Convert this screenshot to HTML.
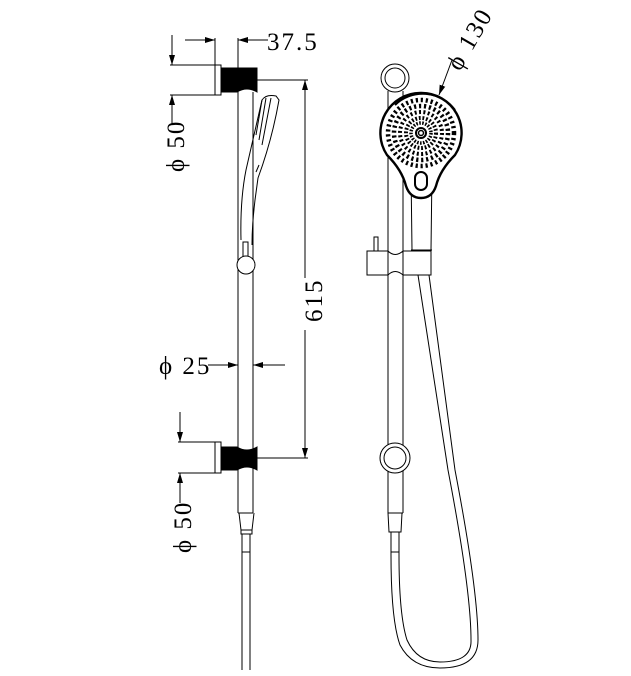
<!DOCTYPE html>
<html><head><meta charset="utf-8"><style>
html,body{margin:0;padding:0;background:#fff;width:631px;height:676px;overflow:hidden}
text{font-family:"Liberation Serif",serif;fill:#000;letter-spacing:2px}
</style></head><body>
<svg width="631" height="676" viewBox="0 0 631 676" xmlns="http://www.w3.org/2000/svg">
<defs>
<marker id="a" markerWidth="10" markerHeight="6" refX="10" refY="3" orient="auto" markerUnits="userSpaceOnUse">
<path d="M0,0 L10,3 L0,6 z" fill="#000"/></marker>
</defs>
<g fill="none" stroke="#000" stroke-width="1">
<line x1="238" y1="38" x2="238" y2="513"/>
<line x1="253" y1="92" x2="253" y2="513"/>
<line x1="238" y1="513" x2="253" y2="513"/>
<rect x="215" y="65" width="6" height="30"/>
<path d="M221,68 H257 V92 Q247,86 237,92 H221 Z" fill="#000"/>
<rect x="215" y="442" width="6" height="31"/>
<path d="M221,447 H237 Q247,453 257,447 V470 Q247,464 237,470 H221 Z" fill="#000"/>
<rect x="243" y="242" width="5" height="15"/>
<circle cx="246" cy="265" r="9" fill="#fff"/>
<path d="M241,240 Q240,200 246,170 L262,100 Q266,94 276,96 L279,100 Q272,140 258,178 L255,200 Q252,225 252,245"/>
<path d="M262,100 L256,135 M266,98 L259,140 M271,98 L262,145"/>
<line x1="256" y1="172" x2="259" y2="165"/>
<path d="M239,513 L241,530 H252 L254,513"/>
<rect x="241" y="530" width="11" height="4"/>
<line x1="242" y1="534" x2="242" y2="670"/>
<line x1="250" y1="534" x2="250" y2="670"/>
<line x1="242" y1="552" x2="250" y2="552"/>
<line x1="215" y1="38" x2="215" y2="65"/>
<line x1="185" y1="40" x2="215" y2="40" marker-end="url(#a)"/>
<line x1="268" y1="40" x2="238" y2="40" marker-end="url(#a)"/>
<line x1="170" y1="65" x2="215" y2="65"/>
<line x1="170" y1="95" x2="215" y2="95"/>
<line x1="172" y1="35" x2="172" y2="65" marker-end="url(#a)"/>
<line x1="172" y1="125" x2="172" y2="95" marker-end="url(#a)"/>
<line x1="178" y1="442" x2="215" y2="442"/>
<line x1="178" y1="473" x2="215" y2="473"/>
<line x1="180" y1="412" x2="180" y2="442" marker-end="url(#a)"/>
<line x1="180" y1="503" x2="180" y2="473" marker-end="url(#a)"/>
<line x1="257" y1="80" x2="308" y2="80"/>
<line x1="257" y1="458" x2="308" y2="458"/>
<line x1="305" y1="278" x2="305" y2="80" marker-end="url(#a)"/>
<line x1="305" y1="330" x2="305" y2="458" marker-end="url(#a)"/>
<line x1="208" y1="365" x2="238" y2="365" marker-end="url(#a)"/>
<line x1="285" y1="365" x2="253" y2="365" marker-end="url(#a)"/>

<circle cx="395" cy="78" r="14"/>
<circle cx="395" cy="78" r="10"/>
<line x1="388" y1="91" x2="388" y2="513"/>
<line x1="403" y1="91" x2="403" y2="513"/>
<line x1="388" y1="513" x2="403" y2="513"/>
<path d="M411,170 L412,250 M432,170 L431,250"/>
<line x1="411" y1="250" x2="432" y2="250"/>
<path d="M421,93 A40,40 0 0 1 455,155 Q440,170 436,186 Q432,198 421,198 Q410,198 406,186 Q402,170 387,155 A40,40 0 0 1 421,93 Z" stroke-width="2.4" fill="#fff"/>
<path d="M395,105 A40,40 0 0 1 455,110" stroke-width="2"/>
<circle cx="421" cy="133" r="33" stroke-width="4.5" stroke-dasharray="2.2 2.8"/>
<circle cx="421" cy="133" r="27" stroke-width="4.5" stroke-dasharray="2.2 2.8"/>
<circle cx="421" cy="133" r="21" stroke-width="4" stroke-dasharray="2 2.4"/>
<circle cx="421" cy="133" r="15" stroke-width="4" stroke-dasharray="1.8 1.8"/>
<circle cx="421" cy="133" r="10" stroke-width="3.5" stroke-dasharray="1.6 1.4"/>
<circle cx="421" cy="133" r="5" stroke-width="2"/>
<circle cx="421" cy="133" r="2.5" stroke-width="1.5"/>
<rect x="415" y="172" width="12" height="18" rx="6" stroke-width="2"/>
<rect x="374" y="237" width="4" height="14"/>
<rect x="367" y="251" width="21" height="24" fill="#fff"/>
<path d="M388,251 Q395,258 403,251 V275 Q395,268 388,275 Z" fill="#fff"/>
<rect x="403" y="251" width="28" height="24" fill="#fff"/>
<circle cx="395" cy="458" r="15" fill="#fff"/>
<circle cx="395" cy="458" r="11"/>
<path d="M388,513 L389,532 H401 L402,513"/>
<line x1="391" y1="532" x2="391" y2="555"/>
<line x1="399" y1="532" x2="399" y2="555"/>
<line x1="391" y1="552" x2="399" y2="552"/>
<path d="M391,555 Q391,620 400,645 Q412,668 440,668 Q478,668 478,640 Q478,590 455,470 L429,275"/>
<path d="M399,555 Q399,615 407,640 Q417,662 440,662 Q472,662 471,640 Q471,590 448,470 L418,275"/>
<line x1="452" y1="60" x2="439" y2="95" marker-end="url(#a)"/>
</g>
<text x="267" y="50" font-size="25">37.5</text>
<text transform="translate(184,172) rotate(-90)" font-size="25">ϕ 50</text>
<text transform="translate(191,553) rotate(-90)" font-size="25">ϕ 50</text>
<text transform="translate(322,322) rotate(-90)" font-size="25">615</text>
<text x="159" y="374" font-size="25">ϕ 25</text>
<text transform="translate(460,72) rotate(-60)" font-size="25">ϕ 130</text>
</svg>
</body></html>
